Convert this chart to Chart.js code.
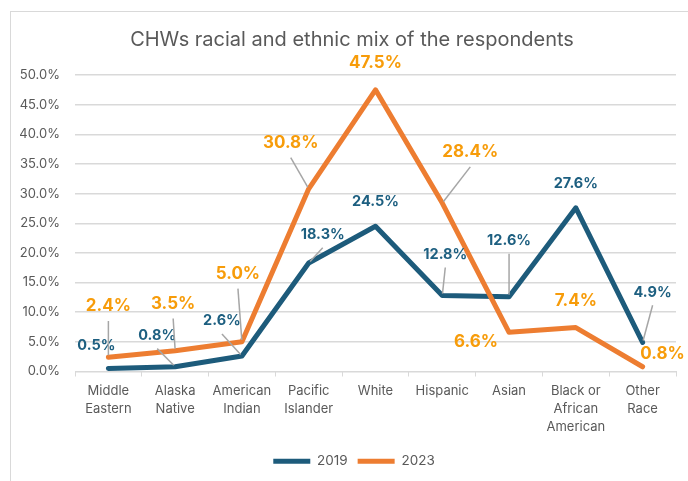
<!DOCTYPE html>
<html>
<head>
<meta charset="utf-8">
<title>CHWs racial and ethnic mix of the respondents</title>
<script src="https://cdn.jsdelivr.net/npm/chart.js@4.4.1/dist/chart.umd.min.js"></script>
<style>
    html, body { margin: 0; padding: 0; background: #fff; }
    .chart-box { position: relative; width: 688px; height: 481px; }
</style>
</head>
<body>

<div class="chart-box">
    <canvas id="raceChart"></canvas>
</div>

<script>
/* ========= DATA ========= */

const chartTitle = "CHWs racial and ethnic mix of the respondents";

const categories = [
    ["Middle", "Eastern"],
    ["Alaska", "Native"],
    ["American", "Indian"],
    ["Pacific", "Islander"],
    ["White"],
    ["Hispanic"],
    ["Asian"],
    ["Black or", "African", "American"],
    ["Other", "Race"]
];

const values2019 = [0.5, 0.8, 2.6, 18.3, 24.5, 12.8, 12.6, 27.6, 4.9];
const values2023 = [2.4, 3.5, 5.0, 30.8, 47.5, 28.4, 6.6, 7.4, 0.8];

const yMin = 0;
const yMax = 50;
const yStep = 5;

/* ========= LABEL PLACEMENT (dx, dy, leader line) ========= */

const labelPos2019 = [
    [-12, -23, false], [-18, -31, true], [-20, -35, true],
    [14, -28, true], [0, -25, false], [3, -41, true],
    [0, -56, true], [0, -24, false], [10, -50, true]
];

const labelPos2023 = [
    [0, -51, true], [-2, -47, true], [-4, -68, true],
    [-18, -46, true], [0, -27, false], [28, -51, true],
    [-33, 10, false], [0, -27, false], [20, -13, false]
];

/* ========= COLOURS ========= */

const blueLine = "#1d5b7b";
const blueText = "#1d5f80";
const orangeLine = "#ed7d31";
const orangeText = "#f79c0a";
const greyText = "#595959";
const gridGrey = "#d9d9d9";


/* ========= PLUGINS ========= */

// white background, outer frame and the title
const frameTitle = {
    id: "frameTitle",
    afterLayout(chart) {
        // legend sits centred under the frame, not the canvas
        chart.legend.left += 16;
        chart.legend.right += 16;
    },
    beforeDraw(chart) {
        const c = chart.ctx;
        c.save();
        c.fillStyle = "#fff";
        c.fillRect(0, 0, chart.width, chart.height);
        c.strokeStyle = gridGrey;
        c.lineWidth = 1;
        c.strokeRect(10.5, 11.5, 700, 500);
        c.fillStyle = greyText;
        c.font = "20px Inter";
        c.textAlign = "center";
        c.textBaseline = "middle";
        c.fillText(chartTitle, 352, 40);
        c.restore();
    }
};

// data labels with leader lines, like the spreadsheet
const pointLabels = {
    id: "pointLabels",
    afterDatasetsDraw(chart) {
        const c = chart.ctx;
        c.save();
        chart.data.datasets.forEach((ds, d) => {
            const meta = chart.getDatasetMeta(d);
            const size = ds.labelSize;
            meta.data.forEach((pt, i) => {
                const pos = ds.labelPos[i];
                const lx = pt.x + pos[0];
                const ly = pt.y + pos[1];

                if (pos[2]) {
                    const sx = lx;
                    const sy = ly + size * 0.75 + 2;
                    const dx = pt.x - sx;
                    const dy = pt.y - sy;
                    const len = Math.sqrt(dx * dx + dy * dy);
                    c.strokeStyle = "#a6a6a6";
                    c.lineWidth = 1.5;
                    c.beginPath();
                    c.moveTo(sx, sy);
                    c.lineTo(pt.x - dx / len * 2, pt.y - dy / len * 2);
                    c.stroke();
                }

                c.fillStyle = ds.labelColor;
                c.font = "bold " + size + "px Inter";
                c.textAlign = "center";
                c.textBaseline = "middle";
                c.fillText(ds.data[i].toFixed(1) + "%", lx, ly);
            });
        });
        c.restore();
    }
};


/* ========= CHART ========= */

const ctx = document.getElementById("raceChart");

new Chart(ctx, {

    type: "line",

    data: {
        labels: categories,
        datasets: [
            {
                label: "2019",
                data: values2019,
                borderColor: blueLine,
                backgroundColor: blueLine,
                borderWidth: 5,
                borderCapStyle: "round",
                borderJoinStyle: "round",
                pointRadius: 0,
                tension: 0,
                order: 1,
                labelPos: labelPos2019,
                labelColor: blueText,
                labelSize: 14.5
            },
            {
                label: "2023",
                data: values2023,
                borderColor: orangeLine,
                backgroundColor: orangeLine,
                borderWidth: 5,
                borderCapStyle: "round",
                borderJoinStyle: "round",
                pointRadius: 0,
                tension: 0,
                order: 0,
                labelPos: labelPos2023,
                labelColor: orangeText,
                labelSize: 17
            }
        ]
    },

    options: {
        responsive: true,
        maintainAspectRatio: false,
        animation: false,
        events: [],

        layout: {
            padding: { top: 75, right: 12, left: 0, bottom: 3 }
        },

        plugins: {
            title: { display: false },
            tooltip: { enabled: false },
            legend: {
                position: "bottom",
                labels: {
                    usePointStyle: true,
                    pointStyle: "line",
                    pointStyleWidth: 37,
                    color: greyText,
                    font: { family: "Inter", size: 13.5 },
                    padding: 10,
                    sort: (a, b) => a.datasetIndex - b.datasetIndex
                }
            }
        },

        scales: {
            x: {
                offset: true,
                afterFit(scale) { scale.height = 73; },
                grid: {
                    offset: true,
                    drawOnChartArea: false,
                    drawTicks: true,
                    tickLength: 5,
                    color: gridGrey
                },
                border: { color: gridGrey, width: 1 },
                ticks: {
                    color: greyText,
                    padding: 5,
                    maxRotation: 0,
                    autoSkip: false,
                    font: { family: "Inter", size: 13, lineHeight: 1.4 }
                }
            },
            y: {
                min: yMin,
                max: yMax,
                afterFit(scale) { scale.width = 75; },
                grid: {
                    color: gridGrey,
                    lineWidth: 1.5,
                    drawTicks: false
                },
                border: { display: false },
                ticks: {
                    stepSize: yStep,
                    padding: 15,
                    color: greyText,
                    font: { family: "Inter", size: 13 },
                    callback: v => v.toFixed(1) + "%"
                }
            }
        }
    },

    plugins: [frameTitle, pointLabels]

});
</script>
</body>
</html>
